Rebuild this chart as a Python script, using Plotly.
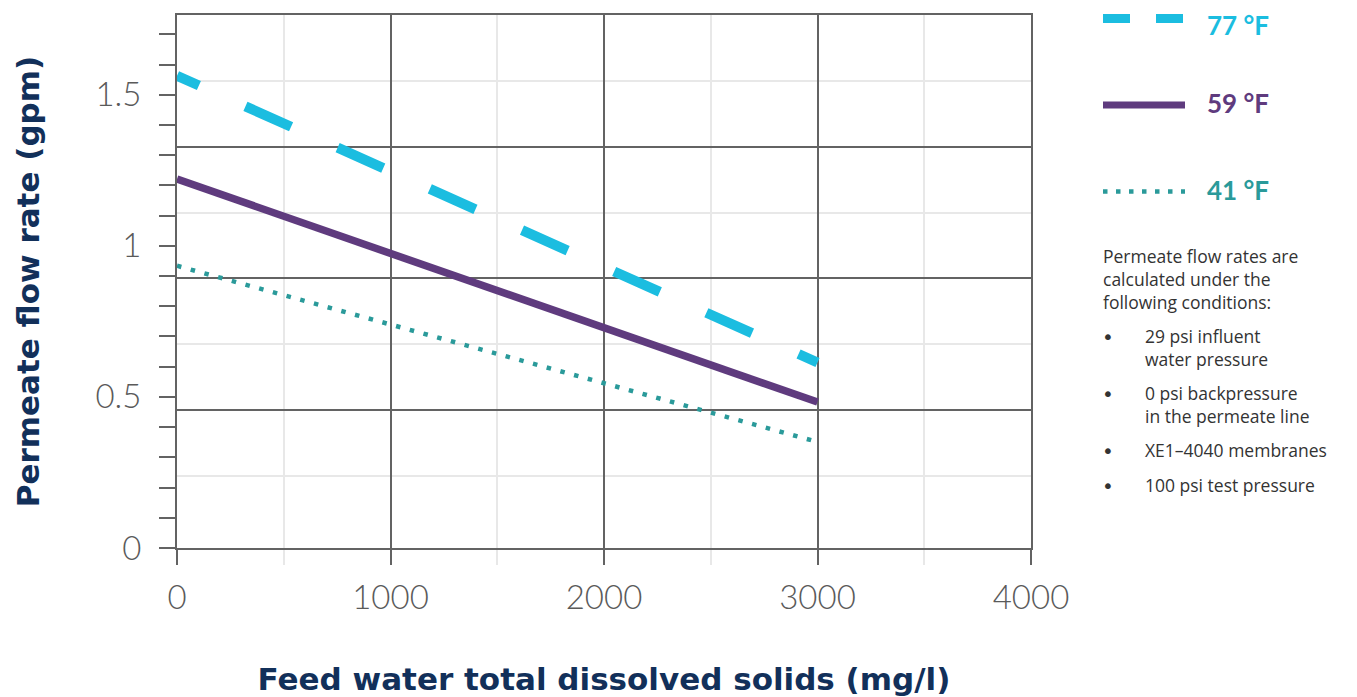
import plotly.graph_objects as go

# ---- data ----
tds = [0, 1000, 2000, 3000]                 # feed water TDS (mg/l)
flow_77F = [1.563, 1.247, 0.930, 0.614]     # gpm
flow_59F = [1.221, 0.975, 0.729, 0.483]     # gpm
flow_41F = [0.934, 0.740, 0.545, 0.351]     # gpm

series_names = ["77 °F", "59 °F", "41 °F"]
x_ticks = [0, 1000, 2000, 3000, 4000]
y_ticks = [0, 0.5, 1, 1.5]
y_tick_text = ["0", "0.5", "1", "1.5"]
y_grid_major = [0.456, 0.892, 1.328]
y_grid_minor = [0.238, 0.674, 1.110, 1.546]

note_header = "Permeate flow rates are<br>calculated under the<br>following conditions:"
bullets = ["29 psi influent<br>water pressure",
           "0 psi backpressure<br>in the permeate line",
           "XE1\u20134040 membranes",
           "100 psi test pressure"]

# ---- styles ----
CYAN = "#1bbde0"
PURPLE = "#5f3b7e"
TEAL = "#2a9a9a"
NAVY = "#12305a"
DARK = "#636363"
LIGHT = "#e8e8e8"
TICKGRAY = "#5a5a5a"
TEXTGRAY = "#333333"
FONT = "Lato"
TITLEFONT = "DejaVu Sans"
NOTEFONT = "Open Sans"

OFF = 8                       # page body offset
W, H = 1357 - OFF, 697 - OFF
ML, MT = 177 - OFF, 15 - OFF
PW, PH = 854, 533
MR, MB = W - ML - PW, H - MT - PH

def px_x(px):
    return (px - OFF - ML) / PW

def px_y(py):
    return (MT + PH - (py - OFF)) / PH

fig = go.Figure()

fig.add_trace(go.Scatter(x=tds, y=flow_41F, mode="lines", name=series_names[2],
                         line=dict(color=TEAL, width=4.5, dash="4.5px,9.7px"),
                         showlegend=False))
fig.add_trace(go.Scatter(x=tds, y=flow_59F, mode="lines", name=series_names[1],
                         line=dict(color=PURPLE, width=7.5), showlegend=False))
fig.add_trace(go.Scatter(x=tds, y=flow_77F, mode="lines", name=series_names[0],
                         line=dict(color=CYAN, width=10,
                                   dash="24px,51px" + ",50px,51px" * 8),
                         showlegend=False))

# invisible trace for the horizontal grid overlay axis
fig.add_trace(go.Scatter(x=[None], y=[None], yaxis="y2", showlegend=False,
                         hoverinfo="skip"))

y_top = 1.764

fig.update_layout(
    width=W, height=H,
    margin=dict(l=ML, r=MR, t=MT, b=MB, autoexpand=False),
    paper_bgcolor="white", plot_bgcolor="white",
    font=dict(family=FONT),
    xaxis=dict(
        range=[0, 4000], tickvals=x_ticks, ticktext=[str(v) for v in x_ticks],
        showgrid=True, gridcolor=DARK, gridwidth=1.5,
        showline=True, linecolor=DARK, linewidth=2, mirror=True,
        ticks="outside", ticklen=15, tickwidth=1.5, tickcolor=DARK,
        tickfont=dict(family=FONT, size=33, color=TICKGRAY, weight=300),
        ticklabelstandoff=4,
        minor=dict(dtick=500, tick0=0, showgrid=True, gridcolor=LIGHT, gridwidth=2,
                   ticks="outside", ticklen=15, tickwidth=1.5, tickcolor=LIGHT),
        zeroline=False, automargin=False,
        title=dict(text="<b>Feed water total dissolved solids (mg/l)</b>",
                   font=dict(family=TITLEFONT, size=31, color=NAVY), standoff=57),
    ),
    yaxis=dict(
        range=[0, y_top], tickvals=y_ticks, ticktext=y_tick_text,
        showgrid=False,
        showline=True, linecolor=DARK, linewidth=2, mirror=True,
        ticks="outside", ticklen=16, tickwidth=1.5, tickcolor=DARK,
        tickfont=dict(family=FONT, size=33, color=TICKGRAY, weight=300),
        ticklabelstandoff=11,
        minor=dict(dtick=0.1, tick0=0, ticks="outside", ticklen=16,
                   tickwidth=1.5, tickcolor=DARK, showgrid=False),
        zeroline=False, automargin=False,
        title=dict(text="<b>Permeate flow rate (gpm)</b>",
                   font=dict(family=TITLEFONT, size=31, color=NAVY), standoff=47),
    ),
    yaxis2=dict(
        overlaying="y", side="right", range=[0, y_top],
        tickmode="array", tickvals=y_grid_major,
        showgrid=True, gridcolor=DARK, gridwidth=1.5,
        minor=dict(tickmode="array", tickvals=y_grid_minor, showgrid=True,
                   gridcolor=LIGHT, gridwidth=2, ticks=""),
        showticklabels=False, ticks="", showline=False, zeroline=False,
        automargin=False,
    ),
)

# ---- custom legend (samples + labels) ----
legend_rows = [
    (series_names[0], CYAN, 9, "27px,26px", 18.5, 25),
    (series_names[1], PURPLE, 7, "solid", 105, 103),
    (series_names[2], TEAL, 4.5, "4.5px,8.5px", 191.5, 190),
]
for name, color, width, dash, ly, ty in legend_rows:
    fig.add_shape(type="line", xref="paper", yref="paper",
                  x0=px_x(1103), x1=px_x(1185), y0=px_y(ly), y1=px_y(ly),
                  line=dict(color=color, width=width, dash=dash))
    fig.add_annotation(xref="paper", yref="paper", x=px_x(1205), y=px_y(ty),
                       xanchor="left", yanchor="middle", showarrow=False,
                       text="<b>" + name + "</b>",
                       font=dict(family=FONT, size=26, color=color))

# ---- conditions note ----
fig.add_annotation(xref="paper", yref="paper", x=px_x(1101), y=px_y(242),
                   xanchor="left", yanchor="top", showarrow=False, align="left",
                   text=note_header, font=dict(family=NOTEFONT, size=17.5, color=TEXTGRAY))
bullet_y = [336, 393, 450, 485]
for text, by in zip(bullets, bullet_y):
    fig.add_annotation(xref="paper", yref="paper", x=px_x(1100), y=px_y(by + 1),
                       xanchor="left", yanchor="middle", showarrow=False,
                       text="•", font=dict(family="DejaVu Sans", size=20, color=TEXTGRAY))
    fig.add_annotation(xref="paper", yref="paper", x=px_x(1143), y=px_y(by - 14),
                       xanchor="left", yanchor="top", showarrow=False, align="left",
                       text=text, font=dict(family=NOTEFONT, size=17.5, color=TEXTGRAY))

fig.write_html("out.html")
